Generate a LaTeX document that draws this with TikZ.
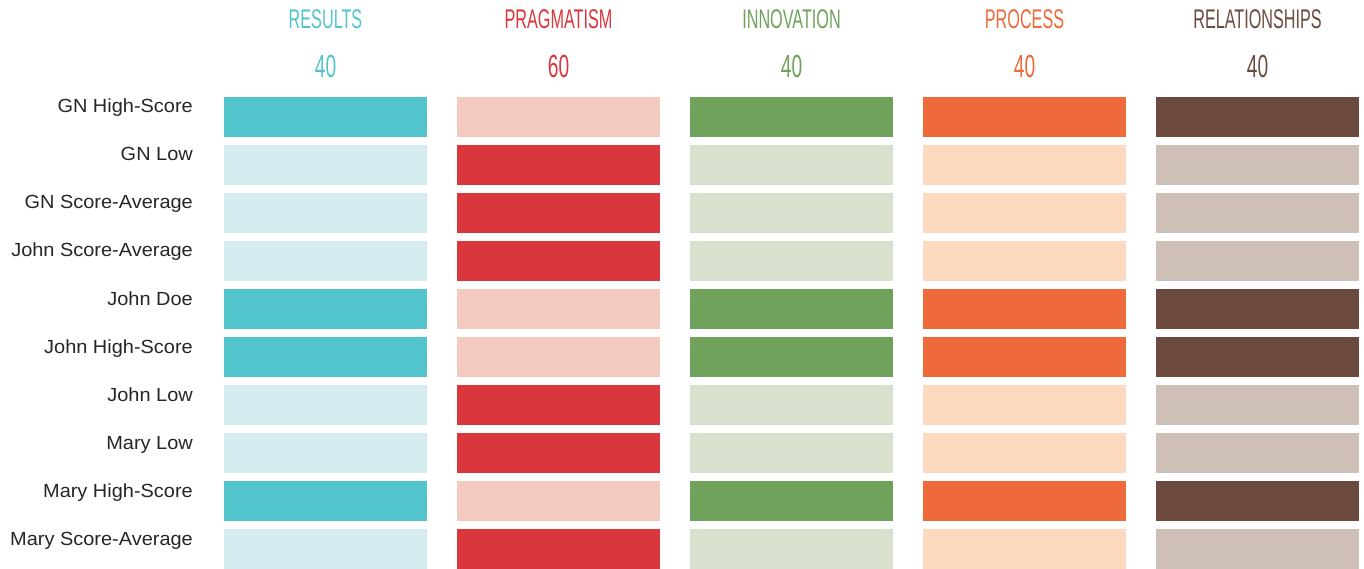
\documentclass[tikz,border=0pt]{standalone}
\usepackage{fontspec}
\setmainfont{Liberation Sans}
\newfontfamily\condfont[FakeStretch=0.6]{Liberation Sans}
\newfontfamily\lblfont[FakeStretch=1.05]{Liberation Sans}
\usetikzlibrary{positioning}

\definecolor{resD}{HTML}{52C5CC}
\definecolor{resL}{HTML}{D5EDF0}
\definecolor{praD}{HTML}{DA363D}
\definecolor{praL}{HTML}{F4C9BF}
\definecolor{innD}{HTML}{6FA35B}
\definecolor{innL}{HTML}{D9E1CE}
\definecolor{proD}{HTML}{EF6A3A}
\definecolor{proL}{HTML}{FDDABF}
\definecolor{relD}{HTML}{6D4A3E}
\definecolor{relL}{HTML}{CEBFB7}

\tikzset{
  rowlbl/.style={anchor=base east,inner sep=0,font=\lblfont\fontsize{19}{19}\selectfont,text=black!85},
  cathead/.style={anchor=base,inner sep=0,font=\condfont\fontsize{27}{27}\selectfont},
  catnum/.style={anchor=base,inner sep=0,font=\condfont\fontsize{32}{32}\selectfont},
  bar/.style={anchor=north west,inner sep=0,minimum width=203pt,minimum height=40pt}
}

\begin{document}
\begin{tikzpicture}[x=1pt,y=-1pt]
\useasboundingbox (0,0) rectangle (1364,569);
% column headers
\foreach \c/\name/\num [count=\i from 0] in {res/RESULTS/40,pra/PRAGMATISM/60,inn/INNOVATION/40,pro/PROCESS/40,rel/RELATIONSHIPS/40}{
  \node[cathead,text=\c D] (head\c) at (325.5+233*\i,29) {\name};
  \node[catnum,text=\c D] (num\c) at (325.5+233*\i,78) {\num};
}
% rows of bars
\foreach \lab/\hi [count=\r from 0] in {GN High-Score/1,GN Low/0,GN Score-Average/0,John Score-Average/0,John Doe/1,John High-Score/1,John Low/0,Mary Low/0,Mary High-Score/1,Mary Score-Average/0}{
  \node[rowlbl] (lbl\r) at (193,97+48*\r+16) {\lab};
  \foreach \c/\inv [count=\i from 0] in {res/0,pra/1,inn/0,pro/0,rel/0}{
    \pgfmathtruncatemacro\dk{abs(\hi-\inv)}
    \edef\fc{\c\ifnum\dk=1 D\else L\fi}
    \node[bar,fill=\fc] (bar\c\r) at (224+233*\i,97+48*\r) {};
  }
}
\end{tikzpicture}
\end{document}
